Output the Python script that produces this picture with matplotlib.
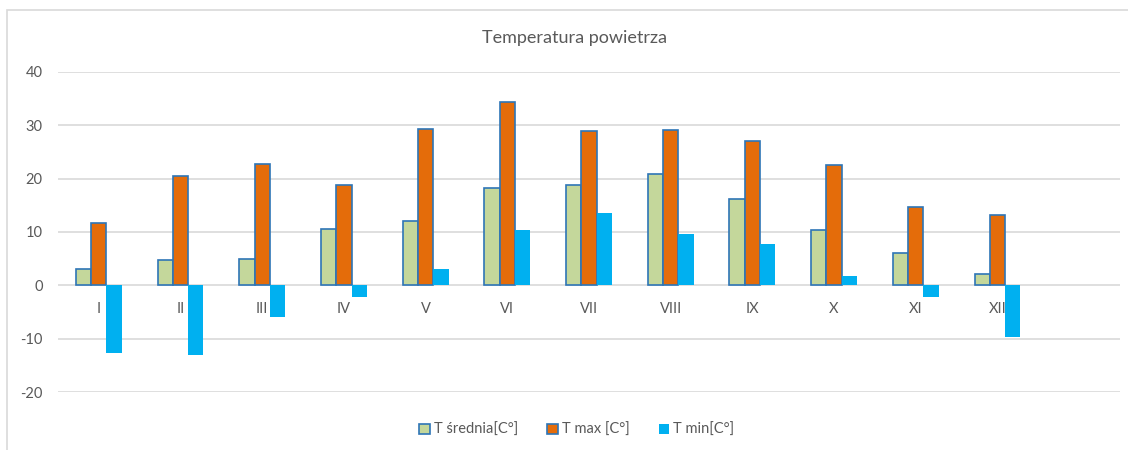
import numpy as np
import matplotlib.pyplot as plt
from matplotlib.patches import Rectangle

plt.rcParams['font.family'] = ['Lato', 'DejaVu Sans']
plt.rcParams['axes.unicode_minus'] = False

# dane miesięczne
months = ['I', 'II', 'III', 'IV', 'V', 'VI', 'VII', 'VIII', 'IX', 'X', 'XI', 'XII', '']
t_avg = [3.1, 4.8, 5.0, 10.6, 12.0, 18.3, 18.9, 20.8, 16.1, 10.4, 6.1, 2.2, np.nan]
t_max = [11.6, 20.5, 22.7, 18.9, 29.4, 34.3, 28.9, 29.2, 27.0, 22.5, 14.7, 13.1, np.nan]
t_min = [-12.7, -13.1, -5.9, -2.1, 3.1, 10.4, 13.6, 9.7, 7.8, 1.7, -2.2, -9.6, np.nan]
labels = ['T średnia[C°]', 'T max [C°]', 'T min[C°]']

W, H = 1128, 450
fig = plt.figure(figsize=(W / 100, H / 100), dpi=100)
ax = fig.add_axes([58 / W, 1 - 392 / H, (1120 - 58) / W, (392 - 72) / H])

# ramka wykresu
fig.patches.append(Rectangle((7 / W, -0.1), 1.2, 1 - 10 / H + 0.1, transform=fig.transFigure,
                             fill=False, edgecolor='#D9D9D9', linewidth=1.2))

x = np.arange(len(months))
w = 0.187
edge = '#2E75B6'
b1 = ax.bar(x - w, t_avg, w, color='#C4D79B', edgecolor=edge, linewidth=1.2, label=labels[0], zorder=3)
b2 = ax.bar(x, t_max, w, color='#E46C0A', edgecolor=edge, linewidth=1.2, label=labels[1], zorder=3)
b3 = ax.bar(x + w, t_min, w, color='#00B0F0', linewidth=0, label=labels[2], zorder=3)

ax.set_xlim(-0.5, len(months) - 0.5)
ax.set_ylim(-20, 40)
ax.set_yticks(range(-20, 41, 10))
ax.yaxis.grid(True, color='#D9D9D9', linewidth=1.2)
ax.set_axisbelow(True)
ax.set_xticks([])
for s in ax.spines.values():
    s.set_visible(False)
ax.tick_params(axis='y', length=0, pad=11, labelcolor='#595959', labelsize=10.5)

for i, m in enumerate(months):
    ax.annotate(m, (i, 0), xytext=(0, -17), textcoords='offset points',
                ha='center', va='center', color='#595959', fontsize=10.5)

fig.text(575 / W, 1 - 38 / H, 'Temperatura powietrza', ha='center', va='center',
         color='#595959', fontsize=13)

fig.legend(handles=[b1, b2, b3], loc='center', bbox_to_anchor=(577 / W, 1 - 430 / H),
           ncol=3, frameon=False, fontsize=10.5, labelcolor='#595959',
           handlelength=0.7, handleheight=0.7, handletextpad=0.3, columnspacing=2.0)

plt.savefig('out.png', dpi=100)
